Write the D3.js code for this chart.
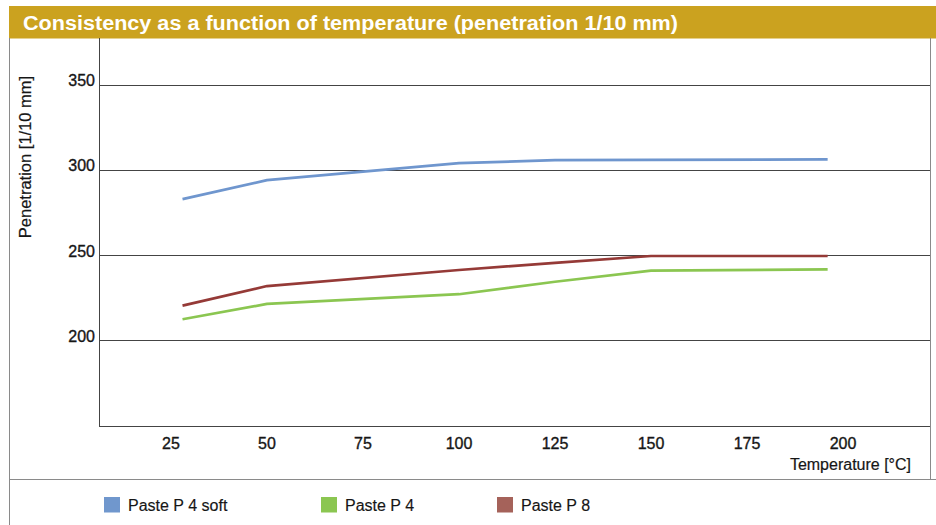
<!DOCTYPE html>
<html>
<head>
<meta charset="utf-8">
<script src="https://cdn.jsdelivr.net/npm/d3@7"></script>
<style>
  html, body { margin: 0; padding: 0; background: #fff; }
  svg { display: block; font-family: "Liberation Sans", Arial, Helvetica, sans-serif; }
</style>
</head>
<body>
<svg id="chart" width="936" height="525"></svg>
<script>
const titleText = "Consistency as a function of temperature (penetration 1/10 mm)";
const yAxisTitle = "Penetration [1/10 mm]";
const xAxisTitle = "Temperature [°C]";
const xTicks = [25, 50, 75, 100, 125, 150, 175, 200];
const yTicks = [200, 250, 300, 350];
const temperatures = [28, 50, 100, 125, 150, 196];
const seriesNames = ["Paste P 4 soft", "Paste P 4", "Paste P 8"];
const p4soft = [282.8, 293.9, 303.9, 305.6, 305.8, 306.1];
const p4 = [212.3, 221.3, 227.0, 234.3, 240.8, 241.6];
const p8 = [220.3, 231.8, 241.2, 245.4, 249.4, 249.4];
const lineColors = ["#6F96CE", "#8BC651", "#953A37"];
const legendColors = ["#7097CD", "#8BC651", "#A5625A"];

const series = [
  { name: seriesNames[0], values: p4soft, color: lineColors[0], legend: legendColors[0] },
  { name: seriesNames[1], values: p4, color: lineColors[1], legend: legendColors[1] },
  { name: seriesNames[2], values: p8, color: lineColors[2], legend: legendColors[2] }
];

const svg = d3.select("#chart");
svg.append("rect").attr("width", 936).attr("height", 525).attr("fill", "#fff");

// title bar
svg.append("rect").attr("x", 9).attr("y", 6).attr("width", 927).attr("height", 32.5).attr("fill", "#CBA21F");
svg.append("text").attr("x", 23).attr("y", 29.5).attr("fill", "#fff")
  .attr("font-size", 20).attr("font-weight", "bold")
  .attr("textLength", 655).attr("lengthAdjust", "spacingAndGlyphs")
  .text(titleText);

// frame
const frame = "#8a8a8a";
svg.append("line").attr("x1", 9.5).attr("x2", 9.5).attr("y1", 38).attr("y2", 525).attr("stroke", frame);
svg.append("line").attr("x1", 930.5).attr("x2", 930.5).attr("y1", 38).attr("y2", 479.5).attr("stroke", frame);
svg.append("line").attr("x1", 9).attr("x2", 936).attr("y1", 479.5).attr("y2", 479.5).attr("stroke", frame);

// scales
const x = d3.scaleLinear().domain([25, 200]).range([171, 843]);
const y = d3.scaleLinear().domain([150, 350]).range([425.5, 84.5]);
const plotLeft = 99.5, plotRight = 930;

// gridlines
svg.append("g").selectAll("line").data(yTicks).join("line")
  .attr("x1", plotLeft).attr("x2", plotRight)
  .attr("y1", d => Math.round(y(d)) + 0.5).attr("y2", d => Math.round(y(d)) + 0.5)
  .attr("stroke", "#444").attr("stroke-width", 1);

// axes lines
svg.append("line").attr("x1", plotLeft).attr("x2", plotRight)
  .attr("y1", Math.round(y(150)) + 0.5).attr("y2", Math.round(y(150)) + 0.5).attr("stroke", "#444");
svg.append("line").attr("x1", plotLeft).attr("x2", plotLeft)
  .attr("y1", 38).attr("y2", Math.round(y(150)) + 1).attr("stroke", "#444");

const txt = "#161616";
// y tick labels
svg.append("g").selectAll("text").data(yTicks).join("text")
  .attr("x", 95).attr("y", d => y(d) + 1.5).attr("text-anchor", "end")
  .attr("font-size", 16).attr("fill", txt).attr("stroke", txt).attr("stroke-width", 0.35)
  .text(d => d);

// x tick labels
svg.append("g").selectAll("text").data(xTicks).join("text")
  .attr("x", d => x(d)).attr("y", 448.5).attr("text-anchor", "middle")
  .attr("font-size", 16).attr("fill", txt).attr("stroke", txt).attr("stroke-width", 0.35)
  .text(d => d);

// axis titles
svg.append("text").attr("x", 911).attr("y", 469.5).attr("text-anchor", "end")
  .attr("font-size", 16).attr("fill", txt).attr("stroke", txt).attr("stroke-width", 0.2)
  .text(xAxisTitle);
svg.append("text").attr("transform", "translate(31,157) rotate(-90)")
  .attr("text-anchor", "middle").attr("font-size", 16.5).attr("fill", txt)
  .attr("stroke", txt).attr("stroke-width", 0.2).text(yAxisTitle);

// lines
const lineGen = d3.line().x((d, i) => x(temperatures[i])).y(d => y(d));
svg.append("g").selectAll("path").data(series).join("path")
  .attr("d", d => lineGen(d.values))
  .attr("fill", "none").attr("stroke", d => d.color).attr("stroke-width", 2.7)
  .attr("stroke-linejoin", "round");

// legend
const legendX = [104, 321, 497];
const lg = svg.append("g").selectAll("g").data(series).join("g")
  .attr("transform", (d, i) => `translate(${legendX[i]},497)`);
lg.append("rect").attr("width", 16).attr("height", 15.5).attr("fill", d => d.legend);
lg.append("text").attr("x", 24).attr("y", 14).attr("font-size", 16).attr("fill", txt)
  .attr("stroke", txt).attr("stroke-width", 0.15).text(d => d.name);
</script>
</body>
</html>
